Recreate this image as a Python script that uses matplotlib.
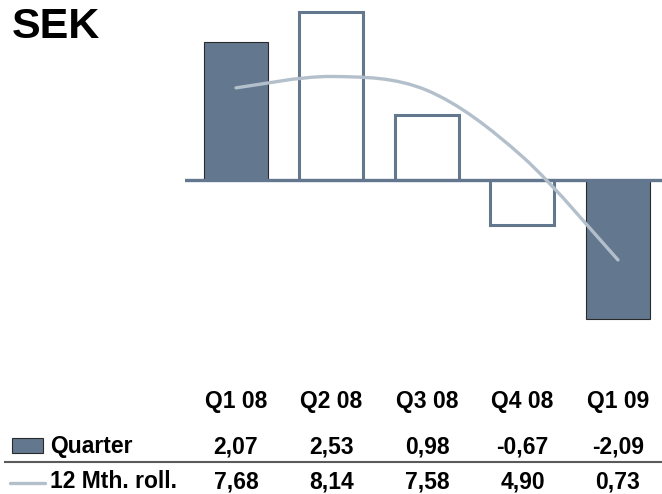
import matplotlib
matplotlib.use("Agg")
import matplotlib.pyplot as plt
import numpy as np
from matplotlib.path import Path
from matplotlib.patches import PathPatch, Rectangle
from matplotlib.lines import Line2D
from matplotlib.transforms import blended_transform_factory

plt.rcParams['font.family'] = ['Liberation Sans', 'DejaVu Sans']
plt.rcParams['font.weight'] = 'bold'

quarters = ["Q1 08", "Q2 08", "Q3 08", "Q4 08", "Q1 09"]
quarter_eps = [2.07, 2.53, 0.98, -0.67, -2.09]
rolling_eps = [7.68, 8.14, 7.58, 4.90, 0.73]
filled = [True, False, False, False, True]

W, H = 662, 494
dark = "#63788f"
light = "#b4bfcc"

fig = plt.figure(figsize=(W / 100, H / 100), dpi=100)

def px(x, y):
    # pixel (from top-left) -> figure fraction
    return x / W, 1 - y / H

ax = fig.add_axes([185 / W, 1 - 340 / H, (662 - 185) / W, 340 / H])
ax.set_xlim(-0.534, 4.461)
ax.set_ylim(-2.406, 2.707)
ax.axis('off')

x = np.arange(len(quarters))
for i, v in enumerate(quarter_eps):
    if filled[i]:
        ax.bar(x[i], v, width=0.67, color=dark, edgecolor="#2a2a2a", linewidth=0.8, zorder=2)
    else:
        ax.bar(x[i], v, width=0.67, color="white", edgecolor=dark, linewidth=2.2, zorder=2)
ax.axhline(0, color=dark, lw=2.4, zorder=3)

# rolling 12 months on hidden secondary axis, smoothed like the original
ax2 = ax.twinx()
ax2.set_ylim(-2.505, 11.23)
ax2.axis('off')
pts = np.column_stack([x, rolling_eps]).astype(float)
verts = [pts[0]]
codes = [Path.MOVETO]
n = len(pts)
for i in range(n - 1):
    p0 = pts[max(i - 1, 0)]
    p1 = pts[i]
    p2 = pts[i + 1]
    p3 = pts[min(i + 2, n - 1)]
    verts += [p1 + (p2 - p0) / 6, p2 - (p3 - p1) / 6, p2]
    codes += [Path.CURVE4] * 3
ax2.add_patch(PathPatch(Path(verts, codes), facecolor="none", edgecolor=light,
                        lw=2.4, capstyle='round', zorder=4))

# title
fig.text(*px(12, 38), "SEK", fontsize=31, fontweight='bold', va='baseline', ha='left')

# data table below
tr = blended_transform_factory(ax.transData, fig.transFigure)
fs = 16.5
for i, q in enumerate(quarters):
    fig.text(x[i], 1 - 408 / H, q, transform=tr, ha='center', va='baseline', fontsize=fs)
    fig.text(x[i], 1 - 453 / H, f"{quarter_eps[i]:.2f}".replace('.', ','), transform=tr,
             ha='center', va='baseline', fontsize=fs)
    fig.text(x[i], 1 - 488 / H, f"{rolling_eps[i]:.2f}".replace('.', ','), transform=tr,
             ha='center', va='baseline', fontsize=fs)

fig.text(*px(50, 453), "Quarter", ha='left', va='baseline', fontsize=fs)
fig.text(*px(50, 488), "12 Mth. roll.", ha='left', va='baseline', fontsize=fs)

x0, y0 = px(12, 453)
fig.patches.append(Rectangle((x0, y0), 31 / W, 15 / H, transform=fig.transFigure,
                             facecolor=dark, edgecolor="#2a2a2a", lw=0.8))
fig.lines.append(Line2D([10 / W, 45 / W], [1 - 483 / H] * 2, transform=fig.transFigure,
                        color=light, lw=2.4, solid_capstyle='round'))
fig.lines.append(Line2D([5 / W, 1.0], [1 - 462 / H] * 2, transform=fig.transFigure,
                        color="#5a5a5a", lw=1.5))

fig.savefig("out.png", dpi=100)
